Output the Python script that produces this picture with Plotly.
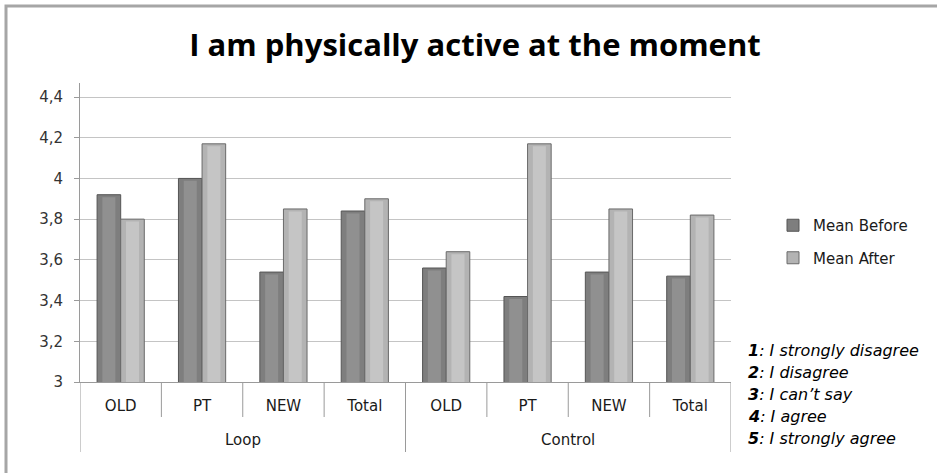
import plotly.graph_objects as go

groups = ["Loop"] * 4 + ["Control"] * 4
subcats = ["OLD", "PT", "NEW", "Total", "OLD", "PT", "NEW", "Total"]
mean_before = [3.92, 4.00, 3.54, 3.84, 3.56, 3.42, 3.54, 3.52]
mean_after = [3.80, 4.17, 3.85, 3.90, 3.64, 4.17, 3.85, 3.82]
y_ticks = [3, 3.2, 3.4, 3.6, 3.8, 4, 4.2, 4.4]
group_names = ["Loop", "Control"]
scale_nums = ["1", "2", "3", "4", "5"]
scale_texts = ["I strongly disagree", "I disagree", "I can\u2019t say", "I agree", "I strongly agree"]

W, H = 937, 473
ML, MR, MT, MB = 80, 937 - 731, 83, 473 - 382
PW, PH = W - ML - MR, H - MT - MB


def px(xp):
    return (xp - ML) / PW


def py(yp):
    return 1 - (yp - MT) / PH


keys = [f"{g} {s}" for g, s in zip(groups, subcats)]
n = len(keys)

fig = go.Figure()
# main bars
fig.add_trace(go.Bar(
    x=keys, y=mean_before, name="Mean Before",
    marker=dict(color="#7e7e7e", line=dict(color="#555555", width=1)),
    offset=-0.29, width=0.29, legendgroup="a",
))
fig.add_trace(go.Bar(
    x=keys, y=mean_after, name="Mean After",
    marker=dict(color="#b3b3b3", line=dict(color="#6a6a6a", width=1)),
    offset=0.0, width=0.29, legendgroup="b",
))
# soft highlight to suggest the cylindrical shading
fig.add_trace(go.Bar(
    x=keys, y=[v - 0.012 for v in mean_before], showlegend=False, hoverinfo="skip",
    marker=dict(color="#909090", line=dict(width=0)),
    offset=-0.225, width=0.16, legendgroup="a",
))
fig.add_trace(go.Bar(
    x=keys, y=[v - 0.012 for v in mean_after], showlegend=False, hoverinfo="skip",
    marker=dict(color="#c5c5c5", line=dict(width=0)),
    offset=0.065, width=0.16, legendgroup="b",
))

annotations = []
for i, (num, t) in enumerate(zip(scale_nums, scale_texts)):
    yy = 350.5 + i * 21.9
    annotations.append(dict(
        xref="paper", yref="paper",
        x=px(746), y=py(yy),
        xanchor="left", yanchor="middle", showarrow=False,
        text=f"<b><i>{num}</i></b><i>: {t}</i>",
        font=dict(family="DejaVu Sans", size=16, color="#000000"),
    ))
for gi, gname in enumerate(group_names):
    annotations.append(dict(
        xref="x", yref="paper",
        x=gi * 4 + 1.5, y=py(440),
        xanchor="center", yanchor="middle", showarrow=False,
        text=gname,
        font=dict(family="DejaVu Sans", size=15, color="#1a1a1a"),
    ))

shapes = [dict(
    type="rect", xref="paper", yref="paper",
    x0=px(6), x1=px(960), y0=py(490), y1=py(6),
    line=dict(color="#a6a6a6", width=3), fillcolor="rgba(0,0,0,0)",
    layer="below",
)]
for b in range(n + 1):
    is_group = (b % 4 == 0)
    shapes.append(dict(
        type="line", xref="x", yref="paper",
        x0=b - 0.5, x1=b - 0.5, y0=0, y1=py(452 if is_group else 417),
        line=dict(color="#9a9a9a", width=1),
    ))

fig.update_layout(
    width=W, height=H,
    margin=dict(l=ML, r=MR, t=MT, b=MB, autoexpand=False),
    paper_bgcolor="white", plot_bgcolor="white",
    barmode="overlay",
    separators=", ",
    title=dict(
        text="<b>I am physically active at the moment</b>",
        x=475 / W, xref="container", xanchor="center",
        y=1 - 45 / H, yref="container", yanchor="middle",
        font=dict(family="Open Sans", size=31, color="#000000"),
    ),
    showlegend=True,
    legend=dict(
        x=px(773), y=py(209), xanchor="left", yanchor="top",
        font=dict(family="DejaVu Sans", size=15, color="#1a1a1a"),
        tracegroupgap=10, traceorder="grouped",
        bgcolor="rgba(0,0,0,0)",
    ),
    xaxis=dict(
        type="category",
        range=[-0.5, n - 0.5],
        tickvals=keys, ticktext=subcats,
        showline=True, linecolor="#9a9a9a", linewidth=1,
        ticks="", ticklabelstandoff=10,
        tickfont=dict(family="DejaVu Sans", size=15, color="#1a1a1a"),
        showgrid=False,
    ),
    yaxis=dict(
        range=[3, 3 + 1.4 * PH / 285],
        tickvals=y_ticks,
        tickformat=".1~f",
        showgrid=True, gridcolor="#c4c4c4", gridwidth=1,
        showline=True, linecolor="#9a9a9a", linewidth=1,
        ticks="outside", ticklen=5, tickcolor="#9a9a9a",
        ticklabelstandoff=8,
        tickfont=dict(family="DejaVu Sans", size=15, color="#333333"),
        zeroline=False,
    ),
    annotations=annotations,
    shapes=shapes,
)

fig.write_html(
    "out.html",
    config={"displayModeBar": False},
    post_script="document.body.style.margin='0';",
)
